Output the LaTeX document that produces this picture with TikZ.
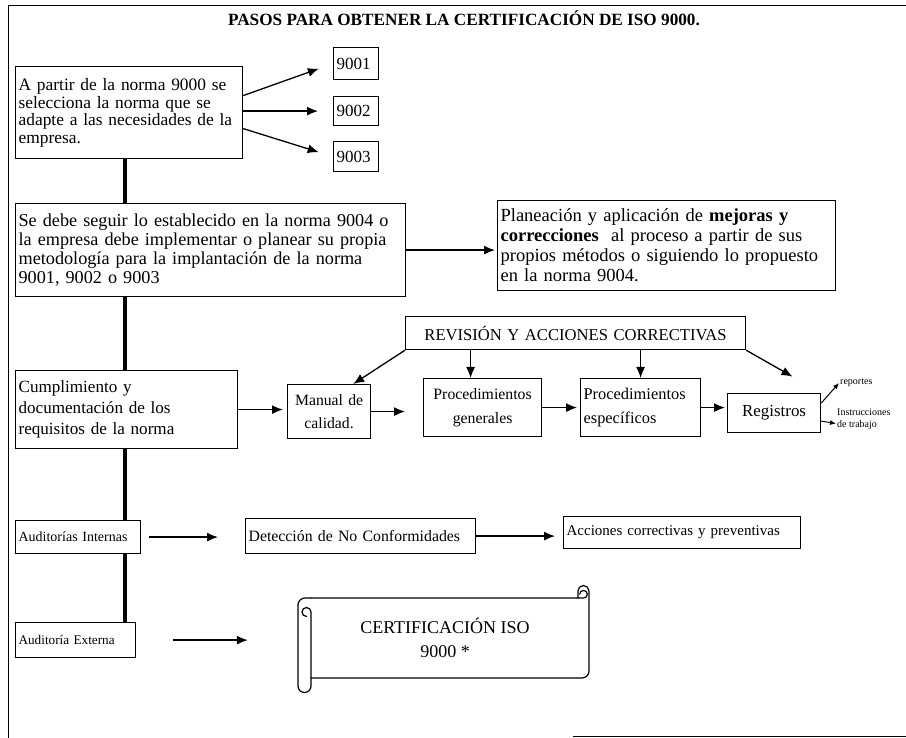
\documentclass[tikz,border=0pt]{standalone}
\usepackage{fontspec}
\setmainfont{Liberation Serif}
\usetikzlibrary{arrows.meta}
\usetikzlibrary{positioning,calc}
\newcommand{\letra}[2]{\fontsize{#1}{#2}\selectfont}

\begin{document}
\begin{tikzpicture}[x=1pt,y=-1pt,
		caja/.style={draw,line width=1.2pt,anchor=north west,inner xsep=3pt,inner ysep=2pt,align=left},
		flecha/.style={line width=1.3pt,-{Latex[length=11pt,width=9pt]}},
		flechita/.style={line width=1pt,-{Latex[length=6pt,width=5pt]}},
		espina/.style={line width=4pt},
		marco/.style={line width=1pt},
		rollo/.style={line width=1.2pt,line join=round,line cap=round}]
		\useasboundingbox (0,0) rectangle (906,738);
		\draw[marco] (8,738) -- (8,6) -- (906,6);
		\draw[marco] (573,736) -- (906,736);
		\node[font=\bfseries\letra{17.2}{20}] (titulo) at (464,18) {PASOS PARA OBTENER LA CERTIFICACIÓN DE ISO 9000.};
		\coordinate (eje) at (125,0);
		\node[caja,font=\letra{17.4}{17.5},text width=221pt,minimum height=92pt] (norma) at (15,66) {A partir de la norma 9000 se\\selecciona la norma que se\\adapte a las necesidades de la\\empresa.};
		\node[caja,font=\letra{17}{18},text width=39pt,minimum height=32pt] (n9001) at (333,47) {9001};
		\node[caja,font=\letra{17}{18},text width=39pt,minimum height=29pt] (n9002) at (333,96) {9002};
		\node[caja,font=\letra{17}{18},text width=39pt,minimum height=30pt] (n9003) at (333,141) {9003};
		\node[caja,font=\letra{18.2}{19},text width=384pt,minimum height=93pt] (implanta) at (15,203) {Se debe seguir lo establecido en la norma 9004 o\\la empresa debe implementar o planear su propia\\metodología para la implantación de la norma\\9001, 9002 o 9003};
		\node[caja,font=\letra{18.5}{20},text width=332pt,minimum height=90pt] (mejora) at (497,200) {Planeación y aplicación de \textbf{mejoras y}\\\textbf{correcciones}\ \ al proceso a partir de sus\\propios métodos o siguiendo lo propuesto\\en la norma 9004.};
		\node[caja,font=\letra{16.6}{18},text width=334pt,minimum height=33pt,align=center] (revision) at (405,316) {REVISIÓN Y ACCIONES CORRECTIVAS};
		\node[caja,font=\letra{17.1}{21},text width=216pt,minimum height=78pt] (cumple) at (15,370) {Cumplimiento y\\documentación de los\\requisitos de la norma};
		\node[caja,font=\letra{15.7}{23},text width=77pt,minimum height=54pt,align=center] (manual) at (287,384) {Manual de\\calidad.};
		\node[caja,font=\letra{15.8}{24},text width=112pt,minimum height=58pt,align=center] (pgen) at (423,378) {Procedimientos\\generales};
		\node[caja,font=\letra{16.4}{24},text width=114pt,minimum height=58pt] (pesp) at (580,378) {Procedimientos\\específicos};
		\node[caja,font=\letra{16.9}{18},text width=87pt,minimum height=39pt,align=center] (registros) at (727,393) {Registros};
		\node[anchor=west,inner sep=1pt,font=\letra{10}{11}] (reportes) at (839,383) {reportes};
		\node[anchor=north west,inner sep=1pt,align=left,font=\letra{10}{12}] (instr) at (836,408) {Instrucciones\\de trabajo};
		\node[caja,font=\letra{14}{16},text width=119pt,minimum height=33pt] (audint) at (15,520) {Auditorías Internas};
		\node[caja,font=\letra{15.8}{18},text width=224pt,minimum height=35pt] (deteccion) at (245,518) {Detección de No Conformidades};
		\node[caja,font=\letra{15}{17},text width=231pt,minimum height=32pt] (acciones) at (563,516) {Acciones correctivas y preventivas};
		\node[caja,font=\letra{13.2}{15},text width=114pt,minimum height=35pt] (audext) at (15,622) {Auditoría Externa};
		\node[minimum width=280pt,minimum height=80pt,align=center,font=\letra{18}{24}] (cert) at (445,638) {CERTIFICACIÓN ISO\\9000 *};
		\draw[espina] (norma.south -| eje) -- (implanta.north -| eje);
		\draw[espina] (implanta.south -| eje) -- (cumple.north -| eje);
		\draw[espina] (cumple.south -| eje) -- (audint.north -| eje);
		\draw[espina] (audint.south -| eje) -- (audext.north -| eje);
		\draw[flecha,shorten >=15pt] ([yshift=17pt]norma.east) -- (n9001.west);
		\draw[flecha,shorten >=15pt] (norma.east |- n9002.west) -- (n9002.west);
		\draw[flecha,shorten >=15pt] ([yshift=-16pt]norma.east) -- (n9003.west);
		\draw[flecha,shorten >=2pt] (implanta.east) -- (implanta.east -| mejora.west);
		\draw[flecha,shorten >=4pt] (cumple.east) -- (cumple.east -| manual.west);
		\draw[flecha,shorten >=18pt] (manual.east) -- (manual.east -| pgen.west);
		\draw[flecha,shorten >=3pt] (pgen.east) -- (pgen.east -| pesp.west);
		\draw[flecha,shorten >=2pt] (pesp.east) -- (pesp.east -| registros.west);
		\draw[flecha] (revision.south west) -- ([xshift=-18pt]manual.north east);
		\draw[flecha] ($(revision.south -| pgen.north)+(-12,0)$) -- ($(pgen.north)+(-12,0)$);
		\draw[flecha] (revision.south -| pesp.north) -- (pesp.north);
		\draw[flecha,shorten >=33pt] (revision.south east) -- (registros.north east);
		\draw[flechita] ([yshift=10pt]registros.east) -- (reportes.west);
		\draw[flechita] ([yshift=-8pt]registros.east) -- ([yshift=-4pt]instr.west);
		\draw[flecha,shorten <=8pt,shorten >=27pt] (audint.east) -- (audint.east -| deteccion.west);
		\draw[flecha,shorten >=8pt] (deteccion.east) -- (deteccion.east -| acciones.west);
		\draw[flecha,shorten <=37pt,shorten >=57pt] (audext.east) -- (audext.east -| cert.west);
		\draw[rollo] (311,598) -- (578,598) -- (578,591) arc[start angle=180,end angle=360,radius=5.5] -- (589,671) arc[start angle=0,end angle=90,radius=7] -- (311,678);
		\draw[rollo] (578,598) -- (583.5,598) arc[start angle=90,end angle=-180,radius=3.8];
		\draw[rollo] (311,598) -- (305,598) arc[start angle=270,end angle=180,radius=7] -- (298,686) arc[start angle=180,end angle=0,radius=6.5] -- (311,612) arc[start angle=0,end angle=-270,radius=4.5];
	\end{tikzpicture}
\end{document}
